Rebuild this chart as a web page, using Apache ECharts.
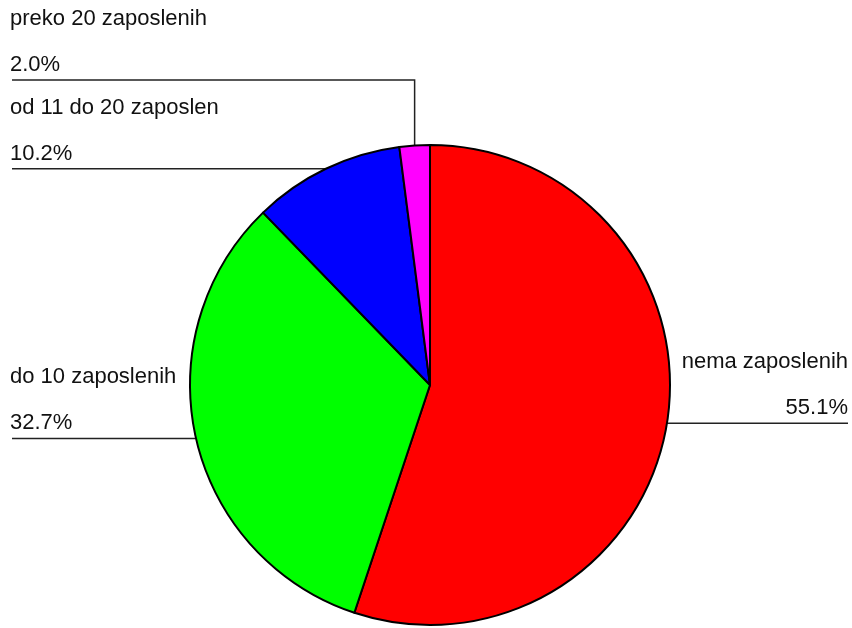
<!DOCTYPE html>
<html>
<head>
<meta charset="utf-8">
<script src="https://cdn.jsdelivr.net/npm/echarts@6/dist/echarts.min.js"></script>
<style>
  html, body { margin: 0; padding: 0; background: #fff; }
  #chart { width: 852px; height: 628px; }
</style>
</head>
<body>
<div id="chart"></div>
<script>
// broj ispitanika po kategoriji (27/49 = 55.1% ...)
var categories = ['nema zaposlenih', 'do 10 zaposlenih', 'od 11 do 20 zaposlen', 'preko 20 zaposlenih'];
var values = [27, 16, 5, 1];
var colors = ['#ff0000', '#00ff00', '#0000ff', '#ff00ff'];

var total = values.reduce(function (a, b) { return a + b; }, 0);

var chart = echarts.init(document.getElementById('chart'));

var data = categories.map(function (name, i) {
  return { name: name, value: values[i], itemStyle: { color: colors[i] } };
});

var option = {
  backgroundColor: '#fff',
  animation: false,
  series: [{
    type: 'pie',
    center: [430, 385],
    radius: 240,
    startAngle: 90,
    clockwise: true,
    data: data,
    itemStyle: { borderColor: '#000', borderWidth: 2 },
    label: {
      show: true,
      position: 'outside',
      formatter: function (p) {
        var pct = Math.round(p.value / total * 1000) / 10;
        return p.name + '\n' + pct.toFixed(1) + '%';
      },
      overflow: 'none',
      width: 400,
      fontFamily: 'Liberation Sans, Arial, sans-serif',
      fontSize: 22,
      lineHeight: 46,
      color: '#111'
    },
    labelLine: {
      show: true,
      lineStyle: { color: '#222', width: 1.5 }
    },
    labelLayout: function (p) {
      var p0 = p.labelLinePoints[0];
      var lineY = p0[1];
      var right = p0[0] > 430;
      var pts;
      if (p.dataIndex === 3) {
        // mali isječak: linija ide gore pa lijevo
        lineY = 80;
        pts = [p0, [p0[0], lineY], [12, lineY]];
      } else if (right) {
        pts = [p0, [(p0[0] + 848) / 2, lineY], [848, lineY]];
      } else {
        pts = [p0, [(p0[0] + 12) / 2, lineY], [12, lineY]];
      }
      return {
        x: right ? 848 : 10,
        y: lineY + 8,
        align: right ? 'right' : 'left',
        verticalAlign: 'bottom',
        labelLinePoints: pts
      };
    }
  }]
};

chart.setOption(option);
</script>
</body>
</html>
